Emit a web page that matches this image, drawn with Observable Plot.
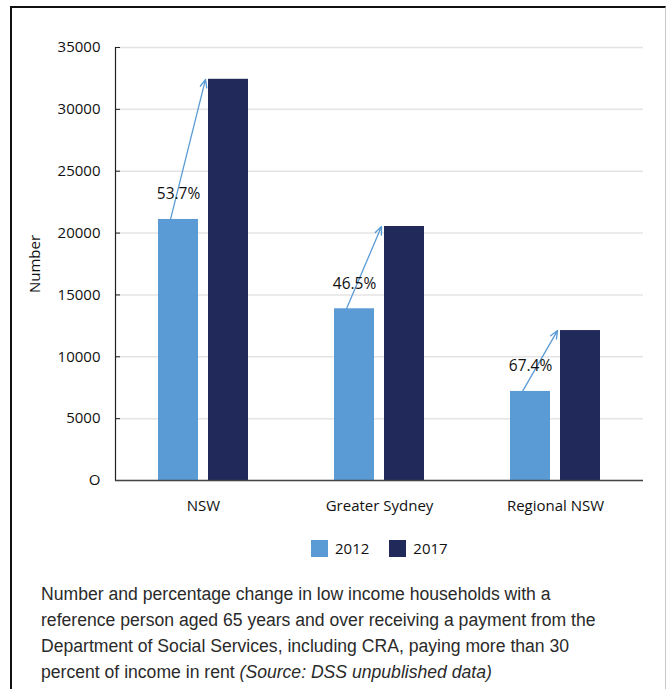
<!DOCTYPE html>
<html>
<head>
<meta charset="utf-8">
<script src="https://cdn.jsdelivr.net/npm/d3@7"></script>
<script src="https://cdn.jsdelivr.net/npm/@observablehq/plot@0.6"></script>
<style>
  body { margin: 0; background: #fff; width: 667px; height: 689px; position: relative; overflow: hidden; font-family: "Open Sans", sans-serif; }
  #frame { position: absolute; left: 10px; top: 6px; width: 653px; height: 720px; border-top: 2px solid #111; border-left: 2px solid #111; border-right: 1px solid #c8c8c8; }
  #chart { position: absolute; left: 0; top: 0; }
  #legend { position: absolute; left: 311px; top: 538px; display: flex; align-items: center; font-size: 15px; color: #111; }
  #legend .sw { width: 17px; height: 17px; margin-right: 7px; }
  #legend .item { display: flex; align-items: center; margin-right: 20px; }
  #caption { position: absolute; left: 41px; top: 581px; width: 620px; white-space: nowrap; font-family: "Liberation Sans", Arial, sans-serif; font-size: 17.6px; line-height: 26px; color: #2a2a2a; }
</style>
</head>
<body>
<div id="frame"></div>
<div id="chart"></div>
<div id="legend"></div>
<div id="caption">Number and percentage change in low income households with a<br>reference person aged 65 years and over receiving a payment from the<br>Department of Social Services, including CRA, paying more than 30<br>percent of income in rent <i>(Source: DSS unpublished data)</i></div>
<script>
const regions = ["NSW", "Greater Sydney", "Regional NSW"];
const years = ["2012", "2017"];
const values2012 = [21100, 13880, 7200];
const values2017 = [32430, 20530, 12120];
const pctLabels = ["53.7%", "46.5%", "67.4%"];
const yTicks = [0, 5000, 10000, 15000, 20000, 25000, 30000, 35000];
const yTickLabels = ["O", "5000", "10000", "15000", "20000", "25000", "30000", "35000"];
const colors = ["#5b9bd5", "#20295a"];

const bars = regions.flatMap((r, i) => [
  {region: r, year: years[0], value: values2012[i]},
  {region: r, year: years[1], value: values2017[i]}
]);
const changes = regions.map((r, i) => ({region: r, from: values2012[i], to: values2017[i], pct: pctLabels[i]}));

const shiftArrow = (index, scales, values, dimensions, context, next) =>
  next(index, scales, {
    ...values,
    x1: Float64Array.from(values.x1, v => v - 8),
    x2: Float64Array.from(values.x2, v => v - 23)
  }, dimensions, context);

const chart = Plot.plot({
  width: 667,
  height: 520,
  marginTop: 47,
  marginBottom: 40,
  marginLeft: 115,
  marginRight: 24,
  style: {fontFamily: "'Open Sans', sans-serif", fontSize: "15px", color: "#111", background: "transparent"},
  fx: {domain: regions, paddingInner: 0, paddingOuter: 0, label: null},
  x: {domain: years, paddingInner: 0.2, paddingOuter: 0.86, axis: null},
  y: {domain: [0, 35000], label: null},
  color: {domain: years, range: colors},
  marks: [
    Plot.gridY(yTicks, {stroke: "#e4e4e4", strokeOpacity: 1, strokeWidth: 1.5}),
    Plot.axisY(yTicks, {tickFormat: (d) => yTickLabels[yTicks.indexOf(d)], tickSize: -5, tickPadding: 20, stroke: "#222", fontSize: 15, label: "Number", labelArrow: "none", labelAnchor: "center", labelOffset: 86}),
    Plot.frame({anchor: "left", facetAnchor: "left", stroke: "#222", strokeWidth: 1.2}),
    Plot.barY(bars, {fx: "region", x: "year", y: "value", fill: "year"}),
    Plot.ruleY([0], {stroke: "#444", strokeWidth: 1.5}),
    Plot.arrow(changes, {fx: "region", x1: () => years[0], x2: () => years[1], y1: "from", y2: "to", stroke: "#5b9bd5", strokeWidth: 1.3, headLength: 10, headAngle: 45, render: shiftArrow}),
    Plot.text(changes, {fx: "region", x: () => years[0], y: "from", text: "pct", dy: -25, fontSize: 15.5, fill: "#111"}),
    Plot.axisFx({anchor: "bottom", tickSize: 0, tickPadding: 20, fontSize: 15, label: null})
  ]
});
document.getElementById("chart").appendChild(chart);

const legend = document.getElementById("legend");
years.forEach((y, i) => {
  const item = document.createElement("div");
  item.className = "item";
  const sw = document.createElement("div");
  sw.className = "sw";
  sw.style.background = colors[i];
  const t = document.createElement("span");
  t.textContent = y;
  item.appendChild(sw);
  item.appendChild(t);
  legend.appendChild(item);
});
</script>
</body>
</html>
